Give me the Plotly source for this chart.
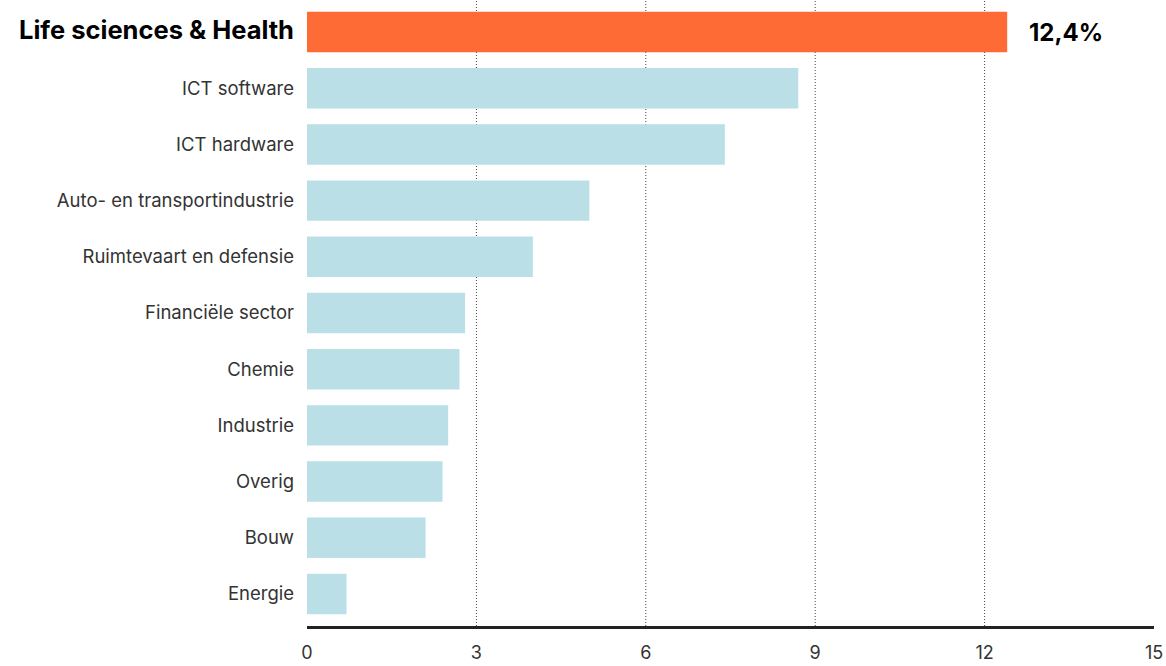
import plotly.graph_objects as go

# Share per sector (%), top to bottom
sectors = [
    "Life sciences & Health",
    "ICT software",
    "ICT hardware",
    "Auto- en transportindustrie",
    "Ruimtevaart en defensie",
    "Financiële sector",
    "Chemie",
    "Industrie",
    "Overig",
    "Bouw",
    "Energie",
]
values = [12.4, 8.7, 7.4, 5.0, 4.0, 2.8, 2.7, 2.5, 2.4, 2.1, 0.7]
highlight = "Life sciences & Health"
highlight_label = "12,4%"
x_ticks = [0, 3, 6, 9, 12, 15]
grid_at = [3, 6, 9, 12]

ORANGE = "#FF6B35"
LIGHTBLUE = "#BADFE6"
FONT = "Inter, 'Noto Sans', sans-serif"

colors = [ORANGE if s == highlight else LIGHTBLUE for s in sectors]
ticktext = [
    f"<b><span style='font-size:25.5px;color:#000'>{s}</span></b>" if s == highlight else s
    for s in sectors
]

fig = go.Figure()
fig.add_trace(go.Bar(
    x=values,
    y=sectors,
    orientation="h",
    marker=dict(color=colors, line=dict(width=0)),
    width=0.72,
    hoverinfo="skip",
))

# dotted vertical guides
for g in grid_at:
    fig.add_shape(type="line", xref="x", yref="paper", x0=g, x1=g, y0=0, y1=1,
                  line=dict(color="#444", width=1, dash="1px,2px"), layer="below")

# value label next to the highlighted bar
fig.add_annotation(
    x=values[sectors.index(highlight)], y=highlight, xref="x", yref="y",
    text=f"<b>{highlight_label}</b>", showarrow=False, xanchor="left",
    xshift=20, font=dict(size=24, color="#000", family=FONT),
)

fig.update_layout(
    width=1166, height=666,
    margin=dict(l=307, r=12, t=0, b=40),
    plot_bgcolor="white", paper_bgcolor="white",
    showlegend=False,
    font=dict(family=FONT, color="#333", size=18),
)
fig.update_xaxes(
    range=[0, 15], tickvals=x_ticks, ticktext=[str(t) for t in x_ticks],
    showgrid=False, zeroline=False,
    showline=True, linecolor="#222", linewidth=3,
    ticks="", ticklabelstandoff=8, automargin=False,
    tickfont=dict(size=18, color="#333"),
)
fig.update_yaxes(
    categoryorder="array", categoryarray=sectors,
    tickvals=sectors, ticktext=ticktext,
    range=[10.57, -0.57],
    showgrid=False, zeroline=False, showline=False,
    ticks="", ticklabelstandoff=12, automargin=False,
    tickfont=dict(size=18.5, color="#333"),
)

fig.write_html("out.html")
